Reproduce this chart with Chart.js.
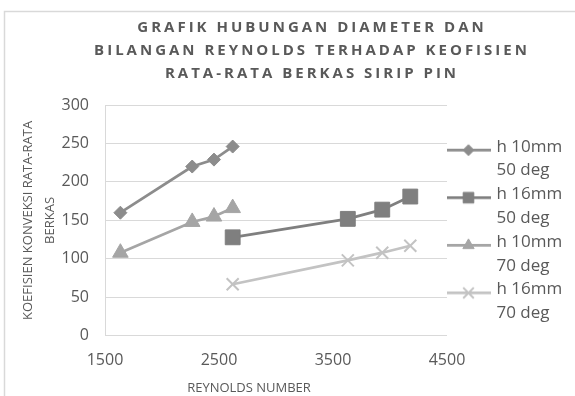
<!DOCTYPE html>
<html>
<head>
<meta charset="utf-8">
<script src="https://cdn.jsdelivr.net/npm/chart.js@4.4.1/dist/chart.umd.min.js"></script>
<style>
  html, body { margin: 0; padding: 0; background: #ffffff; }
  #wrap { width: 575px; height: 396px; position: relative; }
</style>
</head>
<body>
<div id="wrap"><canvas id="c" width="575" height="396"></canvas></div>
<script>
// Chart text
const titleLines = [
  'GRAFIK HUBUNGAN DIAMETER DAN',
  'BILANGAN REYNOLDS TERHADAP KEOFISIEN',
  'RATA-RATA BERKAS SIRIP PIN'
];
const xAxisTitle = 'REYNOLDS NUMBER';
const yAxisTitle = ['KOEFISIEN KONVEKSI RATA-RATA', 'BERKAS'];
const seriesNames = [
  ['h 10mm', '50 deg'],
  ['h 16mm', '50 deg'],
  ['h 10mm', '70 deg'],
  ['h 16mm', '70 deg']
];

// Reynolds numbers (x) for each fin height
const reH10 = [1635, 2265, 2456, 2620];
const reH16 = [2620, 3630, 3932, 4178];

// Average bundle convection coefficient (y)
const h10deg50 = [160, 220, 229, 246];
const h16deg50 = [128, 152, 164, 181];
const h10deg70 = [108, 148, 155, 166];
const h16deg70 = [67, 98, 108, 117];

// Axis ticks
const xTicks = [1500, 2500, 3500, 4500];
const yTicks = [0, 50, 100, 150, 200, 250, 300];

const TEXT = '#595959';
const GRID = '#d9d9d9';
const FONT = "'Open Sans', 'Liberation Sans', sans-serif";
const LEGEND_WIDTH = 128;

const styles = [
  { color: '#8c8c8c', point: 'rectRot',  radius: 6.5, legendRadius: 5.5, pbw: 1 },
  { color: '#7f7f7f', point: 'rect',     radius: 10.5, legendRadius: 7.5, pbw: 1 },
  { color: '#a5a5a5', point: 'triangle', radius: 9,   legendRadius: 6.5, pbw: 1 },
  { color: '#c3c3c3', point: 'crossRot', radius: 8.5, legendRadius: 7.5, pbw: 2 }
];

const pairs = (xs, ys) => xs.map((x, i) => ({ x: x, y: ys[i] }));
const seriesData = [
  pairs(reH10, h10deg50),
  pairs(reH16, h16deg50),
  pairs(reH10, h10deg70),
  pairs(reH16, h16deg70)
];

// Legend symbol: a short line with the series marker in the middle.
// The canvas is a little taller than needed so the symbol lines up
// with the first text line of each two-line label.
function legendIcon(st) {
  const cv = document.createElement('canvas');
  cv.width = 47; cv.height = 30;
  const g = cv.getContext('2d');
  const cy = 18.4;
  g.strokeStyle = st.color;
  g.lineWidth = 2.75;
  g.beginPath(); g.moveTo(2, cy); g.lineTo(47, cy); g.stroke();
  g.fillStyle = st.color;
  g.lineWidth = st.pbw;
  Chart.helpers.drawPoint(g, { pointStyle: st.point, radius: st.legendRadius, rotation: 0, borderWidth: st.pbw }, 24.5, cy);
  return cv;
}

const datasets = seriesData.map((d, i) => ({
  label: seriesNames[i].join(' '),
  data: d,
  borderColor: styles[i].color,
  backgroundColor: styles[i].color,
  borderWidth: 2.75,
  pointStyle: styles[i].point,
  pointRadius: styles[i].radius,
  pointHoverRadius: styles[i].radius,
  pointBorderWidth: styles[i].pbw,
  pointBorderColor: styles[i].color,
  pointBackgroundColor: styles[i].color,
  showLine: true,
  tension: 0,
  clip: false
}));

// Give the right-hand legend a fixed width so the two-line labels fit.
const legendWidthPlugin = {
  id: 'legendWidth',
  beforeLayout(chart) {
    const lg = chart.legend;
    if (lg && !lg.__fixedWidth) {
      const fit = lg.fit;
      lg.fit = function () { fit.call(this); this.width = LEGEND_WIDTH; };
      lg.__fixedWidth = true;
    }
  }
};

const framePlugin = {
  id: 'chartFrame',
  beforeDraw(chart) {
    const ctx = chart.ctx;
    ctx.save();
    ctx.fillStyle = '#ffffff';
    ctx.fillRect(0, 0, chart.width, chart.height);
    ctx.strokeStyle = GRID;
    ctx.lineWidth = 1.5;
    ctx.strokeRect(4.5, 11.5, 700, 500);
    ctx.restore();
  },
  afterDraw(chart) {
    const ctx = chart.ctx;
    ctx.save();
    ctx.fillStyle = TEXT;
    ctx.textAlign = 'center';
    ctx.textBaseline = 'middle';
    ctx.font = "bold 15px " + FONT;
    ctx.letterSpacing = '3px';
    const ty = [28, 51, 74];
    titleLines.forEach((t, i) => ctx.fillText(t, 312, ty[i]));
    ctx.letterSpacing = '0px';
    ctx.font = "13px " + FONT;
    ctx.fillText(xAxisTitle, 249, 388);
    ctx.restore();
  }
};

new Chart(document.getElementById('c'), {
  type: 'scatter',
  data: { datasets: datasets },
  plugins: [legendWidthPlugin, framePlugin],
  options: {
    responsive: false,
    animation: false,
    devicePixelRatio: 1,
    layout: { padding: { top: 105, left: 17, right: 0, bottom: 11 } },
    scales: {
      x: {
        type: 'linear',
        min: 1500, max: 4500,
        afterBuildTicks: s => { s.ticks = xTicks.map(v => ({ value: v })); },
        grid: { display: false, drawTicks: false },
        border: { display: false },
        ticks: {
          color: TEXT, font: { family: FONT, size: 16 }, padding: 15, maxRotation: 0,
          callback: v => String(v)
        }
      },
      y: {
        min: 0, max: 300,
        afterBuildTicks: s => { s.ticks = yTicks.map(v => ({ value: v })); },
        afterFit: s => { s.width = 88; },
        grid: { color: GRID, lineWidth: 1, drawTicks: false },
        border: { display: true, color: GRID, width: 1 },
        ticks: { color: TEXT, font: { family: FONT, size: 16 }, padding: 16 },
        title: {
          display: true,
          text: yAxisTitle,
          color: TEXT,
          font: { family: FONT, size: 13, lineHeight: 1.7 },
          padding: 0
        }
      }
    },
    plugins: {
      tooltip: { enabled: false },
      legend: {
        position: 'right',
        fullSize: false,
        title: { display: true, text: ' ', padding: 0, font: { size: 13, lineHeight: 26 / 13 } },
        labels: {
          usePointStyle: true,
          pointStyleWidth: 41,
          color: TEXT,
          font: { family: FONT, size: 17, lineHeight: 1.4 },
          padding: 0,
          generateLabels(chart) {
            return chart.data.datasets.map((ds, i) => ({
              text: seriesNames[i],
              fillStyle: ds.borderColor,
              strokeStyle: ds.borderColor,
              fontColor: TEXT,
              lineWidth: 0,
              pointStyle: legendIcon(styles[i]),
              hidden: false,
              datasetIndex: i
            }));
          }
        }
      }
    }
  }
});
</script>
</body>
</html>
